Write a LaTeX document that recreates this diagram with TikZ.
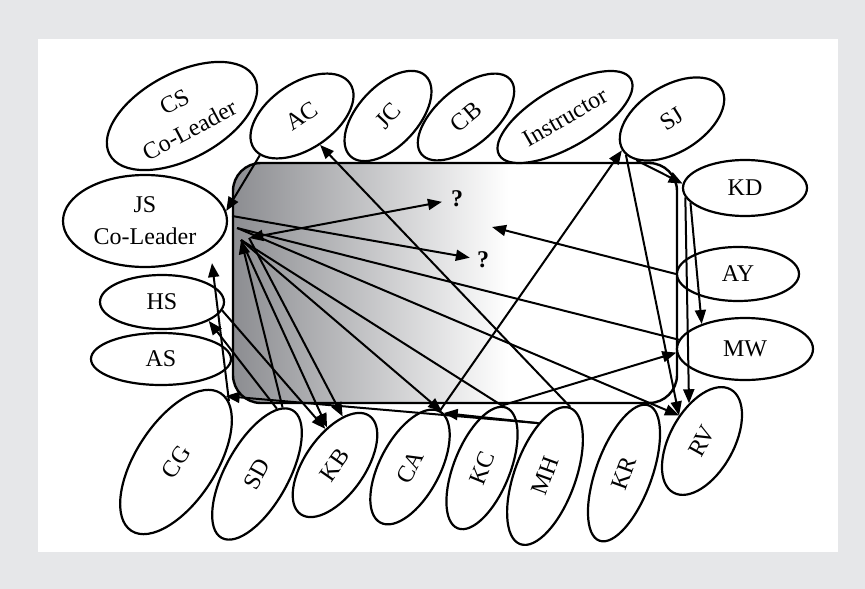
\documentclass[tikz,border=0pt]{standalone}
\usepackage{fontspec}
\setmainfont{Liberation Serif}
\usetikzlibrary{shapes.geometric,arrows.meta,calc}
\definecolor{bggray}{RGB}{230,231,233}
\definecolor{rdark}{RGB}{140,141,145}
\pgfdeclarehorizontalshading{rectshade}{100bp}{color(0bp)=(rdark); color(25bp)=(rdark); color(56bp)=(white); color(100bp)=(white)}
\begin{document}
\begin{tikzpicture}[x=1pt,y=-1pt,
  ell/.style={draw, ellipse, line width=2.2pt, fill=white, inner sep=0pt, font=\fontsize{24}{32}\selectfont, align=center},
  conn/.style={line width=2pt},
  arr/.style={conn, -{Triangle[length=14pt,width=11pt]}},
  darr/.style={conn, {Triangle[length=14pt,width=11pt]}-{Triangle[length=14pt,width=11pt]}},
  qm/.style={font=\fontsize{24}{24}\selectfont\bfseries, inner sep=3pt}
]
\fill[bggray] (0,0) rectangle (865,589);
\fill[white] (38,39) rectangle (838,552);
\useasboundingbox (0,0) rectangle (865,589);

\shade[shading=rectshade, draw, line width=2.4pt, rounded corners=28pt] (233,163) rectangle (677,403);

% top row
\node[ell, minimum width=164pt, minimum height=86pt, rotate=28] (CS) at (182,116) {CS\\Co-Leader};
\node[ell, minimum width=116pt, minimum height=66pt, rotate=34] (AC) at (302,116) {AC};
\node[ell, minimum width=110pt, minimum height=60pt, rotate=47] (JC) at (388,116) {JC};
\node[ell, minimum width=116pt, minimum height=58pt, rotate=40] (CB) at (466,117) {CB};
\node[ell, minimum width=152pt, minimum height=60pt, rotate=30] (INS) at (565,117) {Instructor};
\node[ell, minimum width=116pt, minimum height=66pt, rotate=32] (SJ) at (672,119) {SJ};
% right column
\node[ell, minimum width=124pt, minimum height=56pt] (KD) at (745,188) {KD};
\node[ell, minimum width=122pt, minimum height=54pt] (AY) at (738,274) {AY};
\node[ell, minimum width=136pt, minimum height=62pt] (MW) at (745,349) {MW};
% left column
\node[ell, minimum width=164pt, minimum height=92pt] (JS) at (145,221) {JS\\Co-Leader};
\node[ell, minimum width=124pt, minimum height=54pt] (HS) at (162,302) {HS};
\node[ell, minimum width=140pt, minimum height=52pt] (AS) at (161,359) {AS};
% bottom row
\node[ell, minimum width=164pt, minimum height=80pt, rotate=57] (CG) at (176,462) {CG};
\node[ell, minimum width=146pt, minimum height=63pt, rotate=61] (SD) at (257,474) {SD};
\node[ell, minimum width=120pt, minimum height=60pt, rotate=55] (KB) at (335,465) {KB};
\node[ell, minimum width=126pt, minimum height=60pt, rotate=62] (CA) at (410,467) {CA};
\node[ell, minimum width=130pt, minimum height=56pt, rotate=68] (KC) at (482,468) {KC};
\node[ell, minimum width=145pt, minimum height=61pt, rotate=70] (MH) at (545,476) {MH};
\node[ell, minimum width=144pt, minimum height=56pt, rotate=70] (KR) at (624,473) {KR};
\node[ell, minimum width=118pt, minimum height=64pt, rotate=61] (RV) at (702,441) {RV};

% question marks
\node[qm] (q1) at (457,199) {?};
\node[qm] (q2) at (483,260) {?};

% hub points beside JS
\coordinate (hubA) at ($(JS.east)+(4,-5)$);
\coordinate (hubM) at ($(JS.east)+(9,7)$);
\coordinate (hubB) at ($(JS.east)+(13,19)$);
\coordinate (hubC) at ($(JS.east)+(21,17)$);
\coordinate (cgjs) at ($(JS.south)+(67,-5)$);
\coordinate (ayend) at (492,227);

% connectors
\draw[arr] (AC.189) -- (JS.7);
\draw[darr, shorten >=6pt] (hubC) -- (q1);
\draw[arr, shorten >=4pt] (hubA) -- (q2);
\draw[conn] (hubM) -- (MW.172);
\draw[arr] (hubM) -- (RV.71);
\draw[conn] (hubB) -- (KC.4);
\draw[arr] (hubB) -- (CA.-2);
\draw[arr] (hubB) -- (KB.47);
\draw[arr] (hubC) -- (KB.26);
\draw[arr] (HS.-8) -- (KB.50);
\draw[arr] (SD.12) -- (HS.-22);
\draw[arr] (SD.8) -- (hubB);
\draw[arr] (MH.0) -- (AC.268);
\draw[arr] (CA.0) -- (SJ.180);
\draw[arr] (KC.5) -- (MW.183);
\draw[arr] (MH.27) -- (CA.-4);
\draw[arr] (MH.27) -- (CG.-4);
\draw[arr] (CG.-8) -- (cgjs);
\draw[arr] (SJ.197) -- (KD.176);
\draw[arr] (SJ.186) -- (RV.71);
\draw[arr] (KD.195) -- (MW.150);
\draw[arr] (KD.189) -- (RV.48);
\draw[arr] (AY.west) -- (ayend);
\end{tikzpicture}
\end{document}
